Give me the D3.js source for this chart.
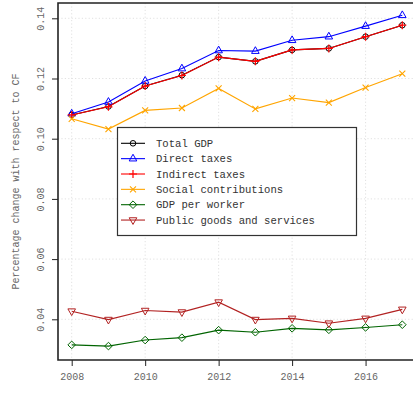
<!DOCTYPE html>
<html>
<head>
<meta charset="utf-8">
<script src="https://cdn.jsdelivr.net/npm/d3@7"></script>
<style>
  html, body { margin: 0; padding: 0; background: #fff; }
  svg { display: block; }
  text { font-family: "Courier New", "Liberation Mono", monospace; }
</style>
</head>
<body>
<svg id="chart" width="413" height="393"></svg>
<script>
// Yearly percentage change with respect to CF
const years = [2008, 2009, 2010, 2011, 2012, 2013, 2014, 2015, 2016, 2017];
const totalGDP        = [0.1079, 0.1107, 0.1175, 0.1211, 0.1271, 0.1257, 0.1295, 0.1300, 0.1339, 0.1377];
const directTaxes     = [0.1083, 0.1122, 0.1192, 0.1233, 0.1293, 0.1291, 0.1327, 0.1339, 0.1374, 0.1410];
const indirectTaxes   = [0.1079, 0.1106, 0.1175, 0.1210, 0.1271, 0.1257, 0.1295, 0.1300, 0.1339, 0.1377];
const socialContrib   = [0.1066, 0.1032, 0.1094, 0.1102, 0.1167, 0.1099, 0.1135, 0.1120, 0.1170, 0.1216];
const gdpPerWorker    = [0.0315, 0.0311, 0.0331, 0.0339, 0.0364, 0.0357, 0.0370, 0.0365, 0.0373, 0.0382];
const publicGoods     = [0.0427, 0.0399, 0.0429, 0.0424, 0.0457, 0.0399, 0.0403, 0.0387, 0.0403, 0.0433];

const xTicks = [2008, 2010, 2012, 2014, 2016];
const yTicks = [0.04, 0.06, 0.08, 0.10, 0.12, 0.14];
const yTitle = "Percentage change with respect to CF";

const seriesList = [
  { name: "Total GDP", values: totalGDP, color: "#000000", marker: "circle" },
  { name: "Direct taxes", values: directTaxes, color: "#0000ff", marker: "triangleUp" },
  { name: "Indirect taxes", values: indirectTaxes, color: "#ff0000", marker: "plus" },
  { name: "Social contributions", values: socialContrib, color: "#ffa500", marker: "cross" },
  { name: "GDP per worker", values: gdpPerWorker, color: "#006400", marker: "diamond" },
  { name: "Public goods and services", values: publicGoods, color: "#b22222", marker: "triangleDown" }
];

const svg = d3.select("#chart");
const plot = { left: 58, top: 3, right: 416, bottom: 360 };
const monoFont = "'Courier New', 'Liberation Mono', monospace";

const x = d3.scaleLinear().domain([2007.627, 2017.373]).range([plot.left, plot.right]);
// 0.02 per ~60 px, with 0.14 sitting just below the top edge
const y = d3.scaleLinear()
  .domain([0.14 - (plot.bottom - 18.3) / 3010, 0.14 + (18.3 - plot.top) / 3010])
  .range([plot.bottom, plot.top]);

// grid
const grid = svg.append("g");
grid.selectAll("line.gx").data(xTicks).join("line")
  .attr("x1", d => x(d)).attr("x2", d => x(d))
  .attr("y1", plot.top).attr("y2", plot.bottom)
  .attr("stroke", "#d9d9d9").attr("stroke-width", 0.8).attr("stroke-dasharray", "1.2,2.2");
grid.selectAll("line.gy").data(yTicks).join("line")
  .attr("x1", plot.left).attr("x2", plot.right)
  .attr("y1", d => y(d)).attr("y2", d => y(d))
  .attr("stroke", "#d9d9d9").attr("stroke-width", 0.8).attr("stroke-dasharray", "1.2,2.2");

// axes
const xAxis = d3.axisBottom(x).tickValues(xTicks).tickFormat(d3.format("d")).tickSizeOuter(0).tickSize(6).tickPadding(7);
const gx = svg.append("g").attr("transform", `translate(0,${plot.bottom})`).call(xAxis);
gx.select(".domain").remove();
gx.selectAll(".tick line").attr("stroke", "#222").attr("stroke-width", 1);
gx.selectAll(".tick text").attr("fill", "#666").attr("font-size", "10px").style("font-family", monoFont);

const yAxis = d3.axisLeft(y).tickValues(yTicks).tickFormat(d3.format(".2f")).tickSizeOuter(0).tickSize(6);
const gy = svg.append("g").attr("transform", `translate(${plot.left},0)`).call(yAxis);
gy.select(".domain").remove();
gy.selectAll(".tick line").attr("stroke", "#222").attr("stroke-width", 1);
gy.selectAll(".tick text")
  .attr("fill", "#666").attr("font-size", "10px").style("font-family", monoFont)
  .attr("x", null).attr("text-anchor", "middle")
  .attr("transform", "translate(-18,0) rotate(-90)")
  .attr("y", 0).attr("dy", "0.35em");

// frame (left, top, bottom)
svg.append("path")
  .attr("d", `M${plot.right},${plot.top}H${plot.left}V${plot.bottom}H${plot.right}`)
  .attr("fill", "none").attr("stroke", "#222").attr("stroke-width", 1.6);

// axis title
svg.append("text")
  .attr("transform", `translate(15,${(plot.top + plot.bottom) / 2}) rotate(-90)`)
  .attr("text-anchor", "middle").attr("dy", "0.35em")
  .attr("fill", "#666").attr("font-size", "10px")
  .text(yTitle);

// point symbols
function drawMarker(g, type, color) {
  const sw = 1;
  if (type === "circle") {
    g.append("circle").attr("r", 2.8).attr("fill", "none").attr("stroke", color).attr("stroke-width", sw);
  } else if (type === "triangleUp") {
    g.append("path").attr("d", "M0,-4.4L3.8,2.3L-3.8,2.3Z").attr("fill", "none").attr("stroke", color).attr("stroke-width", sw);
  } else if (type === "triangleDown") {
    g.append("path").attr("d", "M0,4.4L3.8,-2.3L-3.8,-2.3Z").attr("fill", "none").attr("stroke", color).attr("stroke-width", sw);
  } else if (type === "plus") {
    g.append("path").attr("d", "M-4,0H4M0,-4V4").attr("stroke", color).attr("stroke-width", 1.2);
  } else if (type === "cross") {
    g.append("path").attr("d", "M-3,-3L3,3M-3,3L3,-3").attr("stroke", color).attr("stroke-width", 1.1);
  } else if (type === "diamond") {
    g.append("path").attr("d", "M0,-3.8L3.8,0L0,3.8L-3.8,0Z").attr("fill", "none").attr("stroke", color).attr("stroke-width", sw);
  }
}

const line = d3.line().x((d, i) => x(years[i])).y(d => y(d));
const plotArea = svg.append("g");

seriesList.forEach(s => {
  plotArea.append("path")
    .attr("d", line(s.values))
    .attr("fill", "none").attr("stroke", s.color).attr("stroke-width", 1.1);
  s.values.forEach((v, i) => {
    const g = plotArea.append("g").attr("transform", `translate(${x(years[i])},${y(v)})`);
    drawMarker(g, s.marker, s.color);
  });
});

// legend
const legend = svg.append("g");
const lg = { x: 117.5, y: 127.5, w: 239, h: 108 };
legend.append("rect")
  .attr("x", lg.x).attr("y", lg.y).attr("width", lg.w).attr("height", lg.h)
  .attr("fill", "#fff").attr("stroke", "#333").attr("stroke-width", 1.2);
seriesList.forEach((s, i) => {
  const cy = 143.3 + i * 15.35;
  legend.append("line").attr("x1", 121).attr("x2", 145).attr("y1", cy).attr("y2", cy)
    .attr("stroke", s.color).attr("stroke-width", 1.1);
  const g = legend.append("g").attr("transform", `translate(133,${cy})`);
  drawMarker(g, s.marker, s.color);
  legend.append("text").attr("x", 156).attr("y", cy).attr("dy", "0.35em")
    .attr("font-size", "10.6px").attr("fill", "#333").text(s.name);
});
</script>
</body>
</html>
